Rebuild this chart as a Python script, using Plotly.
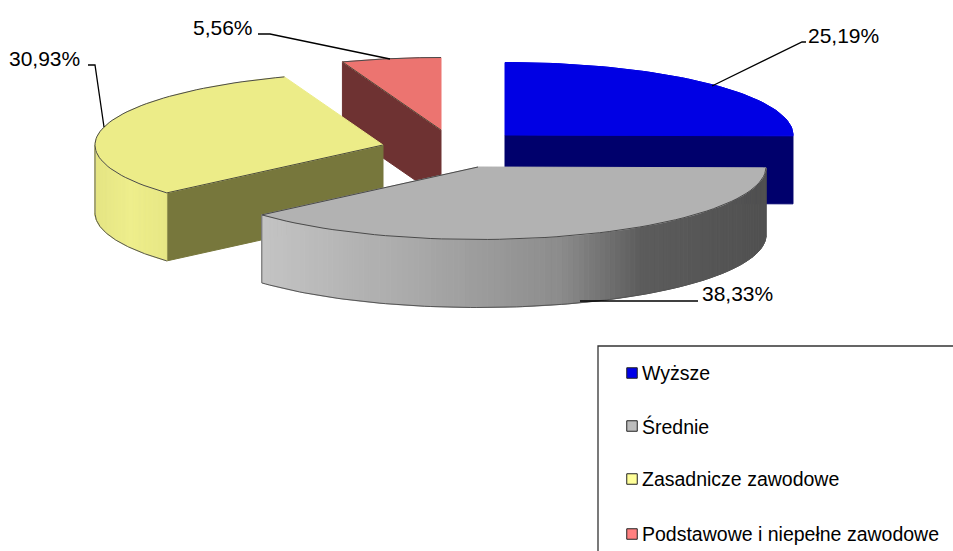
import math
import plotly.graph_objects as go

# --- data ---
categories = ["Wyższe", "Średnie", "Zasadnicze zawodowe", "Podstawowe i niepełne zawodowe"]
shares = [25.19, 38.33, 30.93, 5.56]
value_labels = ["25,19%", "38,33%", "30,93%", "5,56%"]

# --- style ---
top_colors = ["#0000e4", "#b2b2b2", "#ecec88", "#ec7470"]
face_colors = ["#00006c", "#606060", "#77773c", "#6e3232"]
legend_colors = ["#0000e8", "#bcbcbc", "#ffff99", "#ff8080"]
centers = [(505, 135), (478, 167), (383, 145), (441, 130)]
RX, RY, DEPTH = 288, 72.5, 68
arc_stops = {
    1: [(261, "#c4c4c4"), (420, "#a8a8a8"), (560, "#8c8c8c"), (640, "#5c5c5c"), (770, "#505050")],
    2: [(94, "#e4e484"), (130, "#eeee8c"), (170, "#e6e684")],
}
draw_order = [3, 2, 0, 1]
leaders = [
    [(712, 86), (802, 42), (806, 42)],
    [(580, 301), (698, 301)],
    [(104, 127), (95, 65), (88, 65)],
    [(390, 59), (270, 34), (258, 34)],
]
label_pos = [(806, 35), (700, 293), (7, 58), (191, 27)]
legend_y = [373, 426, 479, 534]


def hex2rgb(h):
    return tuple(int(h[i:i + 2], 16) for i in (1, 3, 5))


def ramp(stops, x):
    if x <= stops[0][0]:
        return stops[0][1]
    for (x0, c0), (x1, c1) in zip(stops, stops[1:]):
        if x <= x1:
            t = (x - x0) / (x1 - x0)
            a, b = hex2rgb(c0), hex2rgb(c1)
            return "#%02x%02x%02x" % tuple(round(p + (q - p) * t) for p, q in zip(a, b))
    return stops[-1][1]


def rim(c, ang):
    r = math.radians(ang)
    return c[0] + RX * math.sin(r), c[1] - RY * math.cos(r)


def arc(c, a0, a1, n=60):
    return [rim(c, a0 + (a1 - a0) * k / n) for k in range(n + 1)]


def poly(fig, pts, color, line=None, w=1):
    fig.add_trace(go.Scatter(
        x=[p[0] for p in pts] + [pts[0][0]], y=[p[1] for p in pts] + [pts[0][1]],
        mode="lines", fill="toself", fillcolor=color,
        line=dict(color=line or color, width=w), hoverinfo="skip", showlegend=False))


def stroke(fig, pts, color="#3c3c3c", w=1):
    fig.add_trace(go.Scatter(x=[p[0] for p in pts], y=[p[1] for p in pts], mode="lines",
                             line=dict(color=color, width=w), hoverinfo="skip", showlegend=False))


fig = go.Figure()
total = sum(shares)
angles = [0]
for v in shares:
    angles.append(angles[-1] + 360 * v / total)

for i in draw_order:
    a0, a1 = angles[i], angles[i + 1]
    c = centers[i]
    down = lambda p: (p[0], p[1] + DEPTH)
    # flat cut faces turned towards the viewer
    if math.sin(math.radians(a0)) < -1e-6:
        e = rim(c, a0)
        poly(fig, [c, e, down(e), down(c)], face_colors[i])
    if math.sin(math.radians(a1)) > 1e-6:
        e = rim(c, a1)
        poly(fig, [c, e, down(e), down(c)], face_colors[i])
    # outer wall, in small strips so that it can be shaded
    lo, hi = max(a0, 90), min(a1, 270)
    if hi > lo and i in arc_stops:
        pts = arc(c, lo, hi, 120)
        for p, q in zip(pts, pts[1:]):
            poly(fig, [p, q, down(q), down(p)], ramp(arc_stops[i], (p[0] + q[0]) / 2))
        stroke(fig, [down(p) for p in pts], "#555555", 1)
        stroke(fig, [pts[-1], down(pts[-1])], "#666666", 1)
    # top face
    poly(fig, [c] + arc(c, a0, a1), top_colors[i])
    stroke(fig, arc(c, a0, a1), "#4a4a4a" if i else top_colors[i], 1)
    # darker edge along the cut that faces the viewer
    if i == 1:
        stroke(fig, [c, rim(c, a1)], "#4a4a4a", 1)
    elif i in (2, 3):
        stroke(fig, [c, rim(c, a0)], "#4a4a3a", 1)

# leader lines
for pts in leaders:
    stroke(fig, pts, "#000000", 1.3)

# value labels
annotations = []
for (x, y), t in zip(label_pos, value_labels):
    annotations.append(dict(x=x, y=y, text=t, showarrow=False, xanchor="left", yanchor="middle",
                            xref="x", yref="y", font=dict(family="Liberation Sans", size=21, color="#000000")))

# legend
fig.add_trace(go.Scatter(x=[632] * 4, y=legend_y, mode="markers", hoverinfo="skip", showlegend=False,
                         marker=dict(symbol="square", size=10.5, color=legend_colors,
                                     line=dict(color="#222222", width=1))))
for y, name in zip(legend_y, categories):
    annotations.append(dict(x=640, y=y, text=name, showarrow=False, xanchor="left", yanchor="middle",
                            xref="x", yref="y", font=dict(family="Liberation Sans", size=19.5, color="#000000")))

fig.update_layout(
    width=953, height=551, margin=dict(l=0, r=0, t=0, b=0),
    paper_bgcolor="white", plot_bgcolor="white", showlegend=False,
    xaxis=dict(range=[0, 953], visible=False, fixedrange=True),
    yaxis=dict(range=[551, 0], visible=False, fixedrange=True),
    annotations=annotations,
    shapes=[dict(type="rect", x0=598, y0=346, x1=970, y1=570, xref="x", yref="y",
                 line=dict(color="#333333", width=1.3), fillcolor="rgba(0,0,0,0)", layer="below")],
)
fig.write_html("out.html", config={"displayModeBar": False},
               post_script="document.body.style.margin='0';")
